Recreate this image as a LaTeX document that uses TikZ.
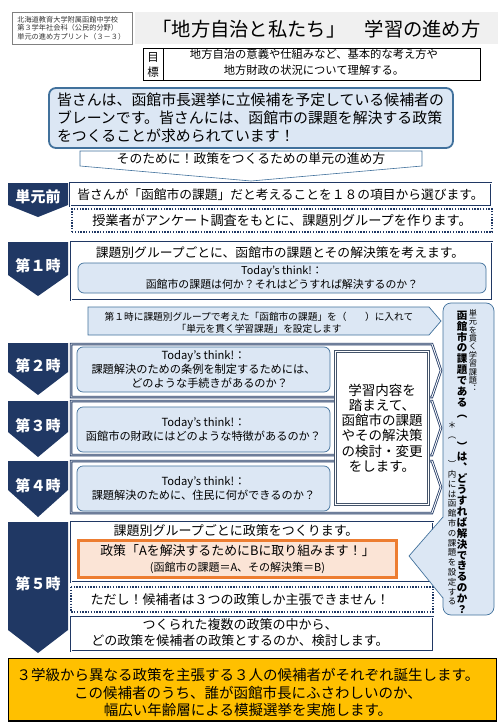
\documentclass[tikz,border=0pt]{standalone}
\usepackage{fontspec}
\setmainfont{Noto Sans CJK JP}
\usetikzlibrary{positioning,calc}
\definecolor{navyblock}{RGB}{32,56,100}
\definecolor{slateline}{RGB}{68,84,106}
\definecolor{blueline}{RGB}{65,113,156}
\definecolor{bluefill}{RGB}{220,231,244}
\definecolor{orangeline}{RGB}{237,125,49}
\definecolor{orangefill}{RGB}{251,228,214}
\definecolor{electionfill}{RGB}{255,192,0}
\definecolor{titlegray}{RGB}{240,240,240}
\newcommand{\fsz}[2]{\fontsize{#1}{#2}\selectfont}
\newcommand{\tatesp}{}
\def\tateloop#1{\ifx\relax#1\else
  \hbox to 1em{\hss\vrule height .88em depth .12em width 0pt#1\hss}%
  \expandafter\tateloop\fi}
\newcommand{\tate}[1]{\vbox{\lineskiplimit=-\maxdimen\tateloop#1\relax}}
\newcommand{\jigen}[5]{%
  \fill[navyblock] (8,#2) -- (68,#2) -- (68,#3) -- (38,#4) -- (8,#3) -- cycle;
  \node[jigentext] (#1) at (38,{(#2+#4)/2-3.5}) {#5};}

\begin{document}
\begin{tikzpicture}[x=1pt, y=-1pt,
    jigentext/.style={text=white, inner sep=0pt, font=\fsz{15}{18}\bfseries},
    dblbox/.style={draw=navyblock, double=white, double distance=0.9pt,
                   line width=0.8pt, fill=white},
    dotbox/.style={draw=navyblock, line width=1.4pt, fill=white,
                   dash pattern=on 1.4pt off 1.4pt},
    thinkbox/.style={draw=blueline, fill=bluefill, rounded corners=6pt,
                     line width=0.7pt, align=center, inner sep=0pt,
                     font=\fsz{11.2}{14}},
    bluebox/.style={draw=blueline, fill=bluefill, line width=0.7pt},
    msg/.style={inner sep=0pt, align=center, font=\fsz{12.8}{16}},
    tatetext/.style={inner sep=0pt, anchor=north}
]
\useasboundingbox (0,0) rectangle (500,722);

% header
\node[draw=black!50, line width=0.6pt, anchor=north west, text width=110pt,
      minimum height=32pt, inner xsep=5pt, inner ysep=0pt, align=left,
      text=black!80, font=\fsz{7.2}{8.6}] (school) at (12,12)
    {北海道教育大学附属函館中学校\\第３学年社会科（公民的分野）\\単元の進め方プリント（３－３）};
\fill[titlegray] (135,12) rectangle (498,44);
\node[inner sep=0pt, font=\fsz{19.3}{22}] (title) at (316.5,29.5)
    {「地方自治と私たち」\hspace{1em}学習の進め方};
\draw[line width=0.8pt] (143,48) rectangle (480,80) (163,48) -- (163,80);
\node[msg, font=\fsz{11.5}{14}] (aimA) at (153,57) {目};
\node[msg, font=\fsz{11.5}{14}] (aimB) at (153,72) {標};
\node[msg, font=\fsz{11.3}{15.5}] (aim) at (314,62)
    {地方自治の意義や仕組みなど、基本的な考え方や\\地方財政の状況について理解する。};

\node[draw=blueline, fill=bluefill, line width=1.8pt, rounded corners=7pt,
      text width=388pt, inner xsep=8pt, minimum height=60pt, align=left,
      font=\fsz{14.9}{18}] (mission) at (251,118)
    {皆さんは、函館市長選挙に立候補を予定している候補者の\\
     ブレーンです。皆さんには、函館市の課題を解決する政策\\
     をつくることが求められています！};
\draw[blueline, fill=white, line width=0.6pt]
    (80,151) -- (422,151) -- (422,166) -- (251,181) -- (80,166) -- cycle;
\node[msg] (banner) at (251,158.5) {そのために！政策をつくるための単元の進め方};

% unit steps
\jigen{labPre}{183}{205}{217}{単元前}
\node[dblbox, minimum width=421pt, minimum height=23pt, inner sep=0pt,
      font=\fsz{12.75}{15}] (preTask) at (280.5,194.5)
    {皆さんが「函館市の課題」だと考えることを１８の項目から選びます。};
\node[dotbox, minimum width=420pt, minimum height=23pt, inner sep=0pt,
      font=\fsz{13.2}{15}] (survey) at (282,220.5)
    {授業者がアンケート調査をもとに、課題別グループを作ります。};

\jigen{labOne}{242}{275}{296}{第１時}
\draw[dblbox] (71,242) rectangle (492,300);
\node[msg] (oneTask) at (280,252.5)
    {課題別グループごとに、函館市の課題とその解決策を考えます。};
\node[thinkbox, minimum width=408pt, minimum height=30pt, font=\fsz{10.9}{14}]
    (oneThink) at (282,278)
    {Today's think!：\\函館市の課題は何か？それはどうすれば解決するのか？};
\draw[bluebox] (88,307) -- (429,307) -- (441,321) -- (429,335) -- (88,335) -- cycle;
\node[msg, font=\fsz{9.7}{11.6}] (goalSet) at (259,322.5)
    {第１時に課題別グループで考えた「函館市の課題」を（\hspace{1.9em}）に入れて\\「単元を貫く学習課題」を設定します};

\jigen{labTwo}{343}{372}{395}{第２時}
\draw[dblbox] (71,344) -- (432,344) -- (441,370.5) -- (432,397) -- (71,397) -- cycle;
\node[thinkbox, minimum width=253pt, minimum height=45pt] (twoThink) at (203.5,369.5)
    {Today's think!：\\課題解決のための条例を制定するためには、\\\hspace*{1.1em}どのような手続きがあるのか？};
\jigen{labThree}{401}{432}{457}{第３時}
\draw[dblbox] (71,401) -- (432,401) -- (441,428) -- (432,455) -- (71,455) -- cycle;
\node[thinkbox, minimum width=253pt, minimum height=45pt] (threeThink) at (203.5,429.5)
    {Today's think!：\\函館市の財政にはどのような特徴があるのか？};
\jigen{labFour}{461}{490}{517}{第４時}
\draw[dblbox] (71,461) -- (432,461) -- (441,487) -- (432,513) -- (71,513) -- cycle;
\node[thinkbox, minimum width=253pt, minimum height=45pt] (fourThink) at (203.5,488.5)
    {Today's think!：\\課題解決のために、住民に何ができるのか？};
\node[draw=slateline, double=white, double distance=1pt, line width=0.9pt, fill=white,
      minimum width=93pt, minimum height=153pt, inner sep=0pt, align=center,
      font=\fsz{13.5}{15.2}] (review) at (382,428)
    {学習内容を\\踏まえて、\\函館市の課題\\やその解決策\\の検討・変更\\をします。};

\jigen{labFive}{522}{630}{653}{第５時}
\draw[dblbox] (71,522) rectangle (433,582);
\node[msg, font=\fsz{13}{16}] (fiveTask) at (236,530.5)
    {課題別グループごとに政策をつくります。};
\node[draw=orangeline, fill=orangefill, line width=2.2pt, minimum width=318pt,
      minimum height=37pt, inner sep=0pt, align=center, font=\fsz{12.9}{16}]
    (policy) at (237.5,559)
    {政策「Aを解決するためにBに取り組みます！」\\{\fsz{11}{13}(函館市の課題＝A、その解決策＝B)}};
\draw[dotbox] (71,587) rectangle (433,612);
\node[msg, font=\fsz{13}{16}] (limit) at (240,599.5)
    {ただし！候補者は３つの政策しか主張できません！};
\draw[dblbox] (71,617) rectangle (433,651);
\node[msg, font=\fsz{13}{16}] (debate) at (240,633)
    {つくられた複数の政策の中から、\\どの政策を候補者の政策とするのか、検討します。};

% learning question column
\draw[bluebox, rounded corners=8pt] (443,303) rectangle (494,615);
\fill[bluefill] (443.8,517) -- (409,556) -- (443.8,598) -- cycle;
\draw[blueline, line width=0.7pt] (443,517) -- (409,556) -- (443,598);
\node[tatetext, font=\fsz{8.2}{8.4}] (questionHead) at (473,308.9)
    {\tate{単元を貫く学習課題︓}};
\node[tatetext, font=\fsz{10.5}{10.9}\bfseries] (question) at (462,309.8)
    {\tate{函館市の課題である︵\tatesp\tatesp ︶は︑どうすれば解決できるのか？}};
\node[tatetext, font=\fsz{8.5}{9.8}] (questionNote) at (452,420.8)
    {\tate{＊︵\tatesp\tatesp ︶内には函館市の課題を設定する}};

\draw[black, fill=electionfill, line width=1.5pt] (8.5,658.5) rectangle (496.5,721);
\node[msg, font=\fsz{14.5}{17.5}] (election) at (248,692.5)
    {３学級から異なる政策を主張する３人の候補者がそれぞれ誕生します。\\この候補者のうち、誰が函館市長にふさわしいのか、\\幅広い年齢層による模擬選挙を実施します。};
\end{tikzpicture}
\end{document}
